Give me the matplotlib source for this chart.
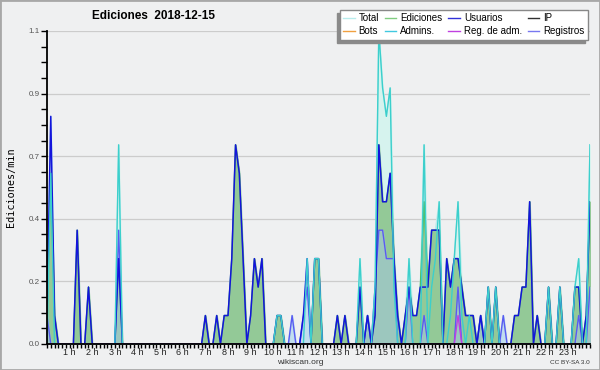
import numpy as np
import matplotlib
matplotlib.use('Agg')
import matplotlib.pyplot as plt
from matplotlib.lines import Line2D
from matplotlib.patches import Rectangle
from matplotlib.ticker import FixedLocator, FormatStrFormatter

# ediciones por intervalo de 10 min (una fila = una hora), ultimo valor = 24 h
total = [1, 8, 1, 0, 0, 0,  0, 0, 4, 0, 0, 2,  0, 0, 0, 0, 0, 0,  0, 7, 0, 0, 0, 0,
         0, 0, 0, 0, 0, 0,  0, 0, 0, 0, 0, 0,  0, 0, 0, 0, 0, 0,  1, 0, 0, 1, 0, 1,
         1, 3, 7, 6, 3, 0,  1, 3, 2, 3, 0, 0,  0, 1, 1, 0, 0, 1,  0, 0, 1, 3, 0, 3,
         3, 0, 0, 0, 0, 1,  0, 1, 0, 0, 0, 3,  0, 1, 0, 2, 11, 9, 8, 9, 3, 1, 0, 1,
         3, 1, 1, 2, 7, 2,  4, 4, 5, 0, 3, 2,  3, 5, 2, 1, 1, 1,  0, 1, 0, 2, 0, 2,
         0, 1, 0, 0, 1, 1,  2, 2, 5, 0, 1, 0,  0, 2, 0, 0, 2, 0,  0, 0, 2, 3, 0, 1,
         7]
ediciones = [1, 6, 1, 0, 0, 0,  0, 0, 4, 0, 0, 2,  0, 0, 0, 0, 0, 0,  0, 3, 0, 0, 0, 0,
             0, 0, 0, 0, 0, 0,  0, 0, 0, 0, 0, 0,  0, 0, 0, 0, 0, 0,  1, 0, 0, 1, 0, 1,
             1, 3, 7, 6, 3, 0,  1, 3, 2, 3, 0, 0,  0, 1, 1, 0, 0, 0,  0, 0, 0, 0, 0, 3,
             3, 0, 0, 0, 0, 1,  0, 1, 0, 0, 0, 2,  0, 1, 0, 1, 7, 5,  5, 6, 3, 1, 0, 1,
             2, 1, 1, 2, 5, 2,  4, 4, 4, 0, 3, 2,  3, 3, 2, 1, 1, 1,  0, 1, 0, 2, 0, 2,
             0, 0, 0, 0, 1, 1,  2, 2, 5, 0, 1, 0,  0, 2, 0, 0, 2, 0,  0, 0, 2, 2, 0, 1,
             5]
usuarios = [1, 8, 1, 0, 0, 0,  0, 0, 4, 0, 0, 2,  0, 0, 0, 0, 0, 0,  0, 3, 0, 0, 0, 0,
            0, 0, 0, 0, 0, 0,  0, 0, 0, 0, 0, 0,  0, 0, 0, 0, 0, 0,  1, 0, 0, 1, 0, 1,
            1, 3, 7, 6, 3, 0,  1, 3, 2, 3, 0, 0,  0, 1, 1, 0, 0, 0,  0, 0, 1, 3, 0, 3,
            3, 0, 0, 0, 0, 1,  0, 1, 0, 0, 0, 2,  0, 1, 0, 1, 7, 5,  5, 6, 3, 1, 0, 1,
            2, 1, 1, 2, 2, 2,  4, 4, 4, 0, 3, 2,  3, 3, 2, 1, 1, 1,  0, 1, 0, 2, 0, 2,
            0, 0, 0, 0, 1, 1,  2, 2, 5, 0, 1, 0,  0, 2, 0, 0, 2, 0,  0, 0, 2, 2, 0, 1,
            5]
admins = [0, 6, 0, 0, 0, 0,  0, 0, 0, 0, 0, 0,  0, 0, 0, 0, 0, 0,  0, 7, 0, 0, 0, 0,
          0, 0, 0, 0, 0, 0,  0, 0, 0, 0, 0, 0,  0, 0, 0, 0, 0, 0,  0, 0, 0, 0, 0, 0,
          0, 0, 0, 0, 0, 0,  0, 0, 0, 0, 0, 0,  0, 1, 1, 0, 0, 0,  0, 0, 0, 3, 0, 3,
          3, 0, 0, 0, 0, 0,  0, 0, 0, 0, 0, 3,  0, 0, 0, 2, 11, 9, 8, 9, 2, 0, 0, 0,
          3, 0, 0, 0, 7, 0,  2, 3, 5, 0, 0, 1,  3, 5, 1, 0, 1, 0,  0, 0, 0, 2, 0, 2,
          0, 0, 0, 0, 0, 0,  0, 0, 0, 0, 0, 0,  0, 2, 0, 0, 2, 0,  0, 0, 2, 3, 0, 0,
          7]
registros = [1, 0, 0, 0, 0, 0,  0, 0, 0, 0, 0, 0,  0, 0, 0, 0, 0, 0,  0, 4, 0, 0, 0, 0,
             0, 0, 0, 0, 0, 0,  0, 0, 0, 0, 0, 0,  0, 0, 0, 0, 0, 0,  0, 0, 0, 0, 0, 0,
             0, 0, 0, 0, 0, 0,  0, 0, 0, 0, 0, 0,  0, 0, 0, 0, 0, 1,  0, 0, 1, 2, 0, 0,
             0, 0, 0, 0, 0, 0,  0, 0, 0, 0, 0, 0,  0, 1, 0, 2, 4, 4,  3, 3, 3, 0, 0, 0,
             2, 0, 0, 0, 1, 0,  0, 0, 0, 0, 0, 0,  0, 2, 0, 0, 0, 0,  0, 1, 0, 0, 0, 0,
             0, 1, 0, 0, 0, 0,  0, 0, 0, 0, 0, 0,  0, 0, 0, 0, 0, 0,  0, 0, 0, 1, 0, 0,
             2]
ip = [0] * 100 + [3] + [0] * 44
reg_adm = [0] * 109 + [1] + [0] * 35
bots = [0] * 145

hour_labels = [f"{h} h" for h in range(1, 24)]

x = np.arange(len(total)) / 6.0
rate = lambda v: np.array(v) / 10.0

fig = plt.figure(figsize=(6, 3.7), dpi=100)
fig.patch.set_facecolor('#eff0f1')
fig.patches.append(Rectangle((0, 0), 1, 1, transform=fig.transFigure, fill=False,
                             edgecolor='#a8a8a8', linewidth=2))
ax = fig.add_axes([47 / 600, 1 - 344 / 370, 543 / 600, 313 / 370])
ax.set_facecolor('#eff0f1')

ax.fill_between(x, rate(total), color='#d6f3ee', zorder=1)
ax.plot(x, rate(total), color='#b8ecec', lw=1.0, zorder=1.2)
ax.plot(x, rate(ip), color='#303030', lw=0.9, zorder=1.3)
ax.fill_between(x, rate(ediciones), color='#93c997', zorder=1.5)
ax.fill_between(x, rate(registros), color='#a9c6ee', alpha=0.45, zorder=1.6)
ax.plot(x, rate(bots), color='#f0a040', lw=1.0, zorder=1.7)
ax.plot(x, rate(ediciones), color='#52bd52', lw=1.0, zorder=1.8)
ax.plot(x, rate(registros), color='#5a5af2', lw=1.0, zorder=1.9)
ax.plot(x, rate(usuarios), color='#1414dc', lw=1.1, zorder=2.0)
ax.plot(x, rate(admins), color='#3ccfcc', lw=1.0, zorder=2.1)
ax.plot(x, rate(reg_adm), color='#c040e0', lw=1.0, zorder=2.2)

ax.set_xlim(0, 24)
ax.set_ylim(0, 1.1)
ax.yaxis.set_major_locator(FixedLocator(np.linspace(0, 1.1, 6)))
ax.yaxis.set_minor_locator(FixedLocator(np.linspace(0, 1.1, 21)))
ax.yaxis.set_major_formatter(FormatStrFormatter('%.1f'))
ax.xaxis.set_major_locator(FixedLocator(range(1, 24)))
ax.xaxis.set_minor_locator(FixedLocator(np.arange(0, 145) / 6.0))
ax.set_xticklabels(hour_labels)
ax.tick_params(axis='x', which='both', direction='out', length=3, width=1, pad=0,
               labelsize=6.5, labelcolor='#222222')
ax.tick_params(axis='y', which='both', direction='out', length=4, width=1, pad=1,
               labelsize=5.8, labelcolor='#555555')
for lab in ax.get_xticklabels() + ax.get_yticklabels():
    lab.set_family('Liberation Sans')
ax.grid(axis='y', which='major', color='#cccccc', lw=0.9, zorder=0)
ax.set_axisbelow(True)
for s in ('top', 'right'):
    ax.spines[s].set_visible(False)
for s in ('left', 'bottom'):
    ax.spines[s].set_linewidth(1.3)
    ax.spines[s].set_zorder(5)

fig.text(154 / 600, 1 - 16 / 370, "Ediciones  2018-12-15", ha='center', va='center',
         fontsize=8.5, fontweight='bold', family='Liberation Sans')
fig.text(11 / 600, 0.493, "Ediciones/min", rotation=90, ha='center', va='center',
         fontsize=7.3, family='DejaVu Sans Mono')
fig.text(300 / 600, 1 - 362.5 / 370, "wikiscan.org", ha='center', va='center',
         fontsize=6.0, family='Liberation Sans', color='#333333')
fig.text(570 / 600, 1 - 362 / 370, "CC BY-SA 3.0", ha='center', va='center',
         fontsize=4.6, family='Liberation Sans', color='#333333')

names = ["Total", "Bots", "Ediciones", "Admins.", "Usuarios", "Reg. de adm.", "IP", "Registros"]
colors = ['#b8ecec', '#f0a040', '#80cc80', '#40c8e0', '#3030d8', '#c040e0', '#303030', '#7878f0']
handles = [Line2D([], [], color=c, lw=1) for c in colors]
fig.legend(handles, names, ncol=4, loc='upper right', bbox_to_anchor=(588 / 600, 1 - 10 / 370),
           prop={'family': 'Liberation Sans', 'size': 7}, frameon=True,
           fancybox=False, edgecolor='#888888', framealpha=1, facecolor='white',
           borderpad=0.35, labelspacing=0.3, handlelength=1.2, handletextpad=0.4,
           columnspacing=0.6, borderaxespad=0,
           shadow={'ox': -2, 'oy': -2, 'color': '#8a8a8a', 'alpha': 1})

fig.savefig('out.png', dpi=100, facecolor=fig.get_facecolor())
